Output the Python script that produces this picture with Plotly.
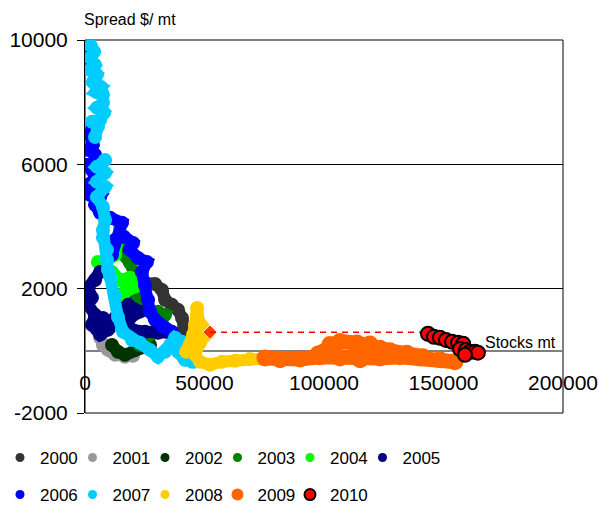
import plotly.graph_objects as go

# ---- data (stocks mt, spread $/mt) ----
years = ["2000", "2001", "2002", "2003", "2004", "2005", "2006", "2007", "2008", "2009", "2010"]

x_2000 = [20900, 19700, 20900, 25100, 29300, 32200, 33500, 36400, 38900, 40600, 41400, 42300]
y_2000 = [1540, 1800, 2060, 2190, 2150, 1960, 1640, 1480, 1320, 1060, 740, 450]

x_2001 = [6300, 7500, 9600, 12600, 16700, 20100]
y_2001 = [420, 190, 30, -130, -190, -160]

x_2002 = [11300, 13800, 16700, 20900, 25100, 27200]
y_2002 = [190, -30, -130, 30, 130, 190]

x_2003 = [12600, 14600, 18800, 20900, 22200, 22200, 25100, 30500, 33500, 31400, 27200, 23000]
y_2003 = [3410, 3250, 2830, 2450, 1960, 1540, 1320, 1260, 1160, 840, 520, 190]

x_2004 = [14600, 13800, 12600, 8400, 5400, 11300, 14600, 18800, 23000, 16700, 14600, 16700, 13800]
y_2004 = [4050, 3570, 3090, 2860, 2860, 2540, 2280, 2350, 2120, 1900, 1480, 1000, 840]

x_2005 = [6300, 4200, 1300, 2900, 1300, 4200, 2900, 6300, 9600, 7500, 11300, 13800, 18000,
          23000, 18800, 16700, 19700, 25100, 30500, 35600]
y_2005 = [2540, 2280, 2030, 1710, 1480, 1160, 840, 520, 680, 1060, 930, 1260, 1480,
          1260, 1060, 840, 680, 610, 580, 580]

x_2006 = [36400, 32600, 29300, 27200, 26400, 25100, 23800, 25900, 22200, 18800, 20100, 16300,
          12600, 11300, 15500, 10500, 6300, 4200, 6300, 2100, 5000, 1300, 4200, 2900, 800,
          5400, 4200, 1300, 3300, 2100, 3300,
          None,
          2500, 2500]
y_2006 = [610, 770, 1000, 1260, 1640, 2120, 2540, 2860, 2990, 3250, 3470, 3670,
          3570, 3090, 4120, 4280, 4440, 4700, 4950, 5020, 5240, 5340, 5560, 5820, 5980,
          6140, 6310, 6470, 6630, 6950, 7300,
          None,
          9100, 9500]

x_2007 = [46000, 44800, 41800, 38900, 40600, 37700, 35600, 33500, 30500, 27200, 23000, 19700,
          15900, 13800, 12600, 10500, 9600, 9200, 9200, 7500, 7500, 8400, 7500, 5000, 8400,
          5000, 8400, 5000, 8400,
          None,
          4200, 5400, 2900, 6300, 8000, 5000, 7500, 7500, 4600, 6700, 3300, 5000, 2100,
          4200, 2100, 3800, 2500]
y_2007 = [-130, -350, -290, -30, 290, 420, 190, -30, -190, 30, 260, 350,
          610, 1090, 1740, 2380, 2610, 2930, 3250, 3640, 3890, 4210, 4630, 4950, 5280,
          5440, 5730, 5920, 6140,
          None,
          6880, 7210, 7370, 7430, 7660, 7820, 7980, 8240, 8330, 8490, 8650, 8880, 9040,
          9200, 9430, 9620, 9810]

x_2008 = [42300, 43900, 45200, 46000, 46900, 46900, 47300, 49400, 51500, 48100, 46000, 48100,
          52300, 57300, 62800, 69000, 74500, 78200]
y_2008 = [-30, 190, 520, 840, 1160, 1380, 1000, 740, 580, 260, -130, -350,
          -450, -350, -320, -260, -260, -230]

x_2009 = [75300, 81600, 90000, 98300, 106700, 115100, 123400, 131800, 140200, 148500, 154800,
          None,
          97500, 102500, 106700, 113800, 119200, 123400, 127600, 134700, 141400]
y_2009 = [-230, -290, -260, -190, -230, -290, -230, -190, -230, -290, -350,
          None,
          -100, 200, 300, 250, 220, 80, 0, -80, -190]

x_2010 = [143500, 146000, 148500, 151000, 153600, 156100, 158200, 156900, 159400, 161100,
          163200, 164400, 159000]
y_2010 = [550, 450, 420, 350, 290, 260, 230, 60, 30, -30, -30, -60, -130]

# dashed link: last 2008 reading to first 2010 reading level
x_link = [52300, 143500]
y_link = [600, 600]

y_ticks = [-2000, 2000, 6000, 10000]
x_ticks = [0, 50000, 100000, 150000, 200000]

colors = ["#333333", "#999999", "#003300", "#008000", "#00FF00", "#000080",
          "#0000FF", "#00CCFF", "#FFCC00", "#FF6600", "#FF0000"]

xs = [x_2000, x_2001, x_2002, x_2003, x_2004, x_2005, x_2006, x_2007, x_2008, x_2009]
ys = [y_2000, y_2001, y_2002, y_2003, y_2004, y_2005, y_2006, y_2007, y_2008, y_2009]

FONT = "Arial, Liberation Sans, sans-serif"

fig = go.Figure()

for i, (xv, yv) in enumerate(zip(xs, ys)):
    size = 17 if years[i] == "2009" else 14
    fig.add_trace(go.Scatter(
        x=xv, y=yv, mode="lines+markers",
        line=dict(color=colors[i], width=size - 2),
        marker=dict(color=colors[i], size=size),
        connectgaps=False, showlegend=False, hoverinfo="skip"))

fig.add_trace(go.Scatter(
    x=x_link, y=y_link, mode="lines+markers",
    line=dict(color="#FF0000", width=1.5, dash="6px,5px"),
    marker=dict(color="#FF0000", symbol="diamond", size=[11, 0]),
    showlegend=False, hoverinfo="skip"))

fig.add_trace(go.Scatter(
    x=x_2010, y=y_2010, mode="markers",
    marker=dict(color="#FF0000", size=14, line=dict(color="black", width=2)),
    showlegend=False, hoverinfo="skip"))

# legend entries
for i, yr in enumerate(years):
    if yr == "2010":
        mk = dict(color="#FF0000", size=11, line=dict(color="black", width=2))
    elif yr == "2009":
        mk = dict(color=colors[i], size=12)
    else:
        mk = dict(color=colors[i], size=9)
    extra = {}
    if yr in ("2005", "2010"):
        extra["legendwidth"] = 45
    fig.add_trace(go.Scatter(
        x=[None], y=[None], mode="markers", name=yr, marker=mk,
        legend="legend" if i < 6 else "legend2", **extra))

fig.update_layout(
    width=606, height=505,
    margin=dict(l=85, r=43, t=40, b=92, autoexpand=False),
    paper_bgcolor="white", plot_bgcolor="white",
    font=dict(family=FONT, color="black"),
    xaxis=dict(range=[0, 200000], anchor="free", position=0.12,
               showline=False, showgrid=False, zeroline=False, ticks="",
               tickvals=x_ticks, ticktext=[str(v) for v in x_ticks],
               tickfont=dict(size=21, family=FONT, color="black")),
    yaxis=dict(range=[-2000, 10000], showline=True, linecolor="black", linewidth=1,
               ticks="outside", ticklen=7, tickcolor="black",
               tickvals=y_ticks, ticktext=[str(v) for v in y_ticks],
               tickfont=dict(size=21, family=FONT, color="black"),
               showgrid=True, gridcolor="black", gridwidth=1,
               zeroline=True, zerolinecolor="#808080", zerolinewidth=1.5,
               ticklabelstandoff=5),
    legend=dict(orientation="h", xref="container", yref="container",
                x=-2 / 606, y=1 - 458 / 505, xanchor="left", yanchor="middle",
                entrywidth=27.5, entrywidthmode="pixels",
                font=dict(size=17, family=FONT, color="black"),
                bgcolor="rgba(0,0,0,0)"),
    legend2=dict(orientation="h", xref="container", yref="container",
                 x=-2 / 606, y=1 - 495 / 505, xanchor="left", yanchor="middle",
                 entrywidth=27.5, entrywidthmode="pixels",
                 font=dict(size=17, family=FONT, color="black"),
                 bgcolor="rgba(0,0,0,0)"),
    shapes=[dict(type="rect", xref="paper", yref="paper", x0=0, x1=1, y0=0, y1=1,
                 line=dict(color="black", width=1), layer="below")],
    annotations=[
        dict(text="Spread $/ mt", xref="paper", yref="paper", x=-0.006, y=1.056,
             xanchor="left", yanchor="middle", showarrow=False,
             font=dict(size=16, family=FONT, color="black")),
        dict(text="Stocks mt", xref="x", yref="y", x=166500, y=257,
             xanchor="left", yanchor="middle", showarrow=False,
             font=dict(size=16, family=FONT, color="black")),
    ],
)

fig.write_html("out.html", config={"displayModeBar": False},
               post_script="document.body.style.margin='0';document.body.style.overflow='hidden';")
